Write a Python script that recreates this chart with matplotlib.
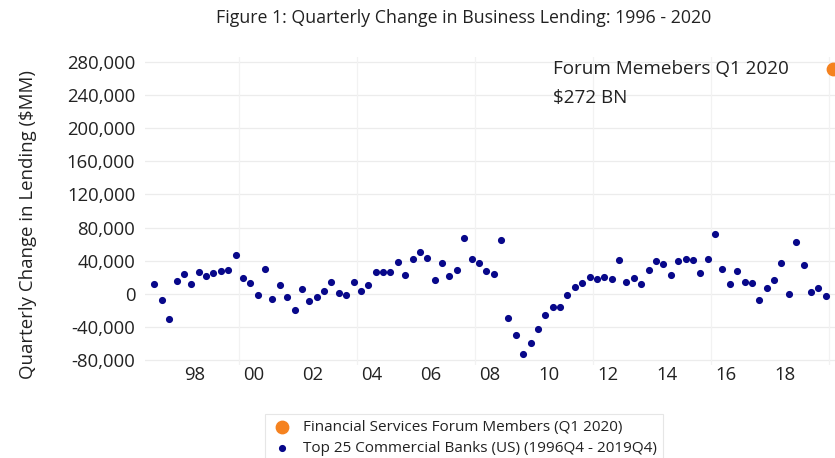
import matplotlib
matplotlib.use("Agg")
import matplotlib.pyplot as plt
import numpy as np
from matplotlib.ticker import FuncFormatter

# quarterly change in business lending, $MM, 1996Q4 onward
lending_change = [
    12000, -7400, -30900, 16000, 23900, 11500, 26400, 21800, 25500, 27600,
    28800, 47400, 18500, 13200, -2000, 30500, -6200, 10700, -3300, -19400,
    5400, -8200, -4100, 2900, 14400, 1200, -1600, 14000, 2900, 11100,
    26800, 26800, 26400, 37900, 22200, 41600, 50300, 42800, 16100, 36700,
    21800, 28400, 67600, 42400, 36700, 27600, 23900, 65500, -28800, -50300,
    -72900, -59300, -42000, -25100, -15700, -15700, -1200, 7800, 12800, 20200,
    17700, 20200, 18100, 40400, 14800, 19400, 12400, 29300, 39100, 36200,
    23100, 40000, 41600, 40400, 25100, 42400, 72500, 30500, 12400, 27200,
    14800, 13600, -7800, 7000, 16100, 36700, -400, 62600, 34200, 2500,
    7000, -2100,
]
first_quarter = 1996.625          # position of the first quarter on the year axis
forum_value = 272000              # Financial Services Forum members, Q1 2020

year_ticks = [1998, 2000, 2002, 2004, 2006, 2008, 2010, 2012, 2014, 2016, 2018]
year_labels = ["98", "00", "02", "04", "06", "08", "10", "12", "14", "16", "18"]
y_ticks = [-80000, -40000, 0, 40000, 80000, 120000, 160000, 200000, 240000, 280000]
v_grid = [1999.5, 2003.5, 2007.5, 2011.5, 2015.5, 2019.5]

plt.rcParams["font.family"] = ["Open Sans", "DejaVu Sans"]

quarters = first_quarter + 0.25 * np.arange(len(lending_change))
forum_x = quarters[-1] + 0.25

W, H = 835, 458
fig = plt.figure(figsize=(W / 100, H / 100), dpi=100)
ax = fig.add_axes([145 / W, 1 - 365 / H, (837 - 145) / W, (365 - 57) / H])

ax.set_xlim(1996.305, 2019.76)
ax.set_ylim(-86000, 286000)

for yv in y_ticks:
    ax.axhline(yv, color="#ececec", lw=0.9, zorder=0)
for xv in v_grid:
    ax.axvline(xv, color="#f2f2f2", lw=0.9, zorder=0)

ax.scatter(quarters, lending_change, s=17, color="#08088a", zorder=3,
           label="Top 25 Commercial Banks (US) (1996Q4 - 2019Q4)")
ax.scatter([forum_x], [forum_value], s=80, color="#f5821f", zorder=3,
           label="Financial Services Forum Members (Q1 2020)")

ax.set_yticks(y_ticks)
ax.yaxis.set_major_formatter(FuncFormatter(lambda v, p: f"{int(v):,}"))
ax.set_xticks(year_ticks)
ax.set_xticklabels(year_labels)
ax.tick_params(length=0, labelsize=13.3, colors="#222222")
ax.tick_params(axis="y", pad=7)
ax.tick_params(axis="x", pad=1)
for s in ax.spines.values():
    s.set_visible(False)

ax.set_ylabel("Quarterly Change in Lending ($MM)", fontsize=13.4, color="#222222")
ax.yaxis.set_label_coords(-(145 - 37) / (837 - 145), (365 - 225) / (365 - 57))

fig.text(464 / W, 1 - 18 / H, "Figure 1: Quarterly Change in Business Lending: 1996 - 2020",
         ha="center", va="center", fontsize=12.8, color="#222222")
ax.text(2010.15, 272000, "Forum Memebers Q1 2020", ha="left", va="center",
        fontsize=13.6, color="#222222")
ax.text(2010.15, 237000, "$272 BN", ha="left", va="center", fontsize=13.6, color="#222222")

handles, labels = ax.get_legend_handles_labels()
leg = fig.legend(handles[::-1], labels[::-1], loc="upper left",
                 bbox_to_anchor=(257 / W, 1 - 406 / H), fontsize=11, frameon=True,
                 fancybox=False, edgecolor="#e0e0e0", handletextpad=0.6,
                 labelspacing=0.4, borderpad=0.4, handlelength=1.5)
leg.get_frame().set_linewidth(0.8)
for t in leg.get_texts():
    t.set_color("#222222")

fig.savefig("out.png", dpi=100)
